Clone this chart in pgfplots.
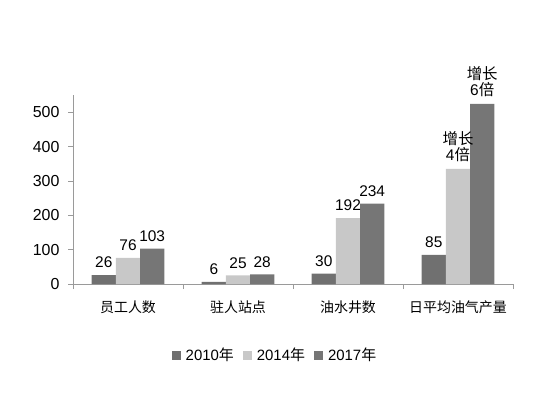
\documentclass[border=0pt]{standalone}
\usepackage{pgfplots}
\pgfplotsset{compat=1.18}
\usepackage{fontspec}
\setmainfont{Liberation Sans}
\newfontfamily\cjk{Noto Sans CJK SC}
\definecolor{cA}{HTML}{707070}
\definecolor{cB}{HTML}{C8C8C8}
\definecolor{cC}{HTML}{767676}
\definecolor{axc}{HTML}{9A9A9A}
\begin{document}
\begin{tikzpicture}[x=1bp,y=1bp]
\path[use as bounding box] (0,0) rectangle (550,392);
\begin{axis}[
  at={(73bp,108bp)}, anchor=south west,
  width=440bp, height=189bp, scale only axis,
  ybar=0pt, bar width=0.22,
  xmin=-0.5, xmax=3.5, ymin=0, ymax=550,
  axis lines*=left,
  axis line style={draw=axc, line width=0.8pt},
  xtick={0,1,2,3},
  xticklabels={员工人数,驻人站点,油水井数,日平均油气产量},
  xticklabel style={font=\cjk\fontsize{14}{16}\selectfont, yshift=-8bp},
  major x tick style={draw=none},
  minor xtick={-0.5,0.5,1.5,2.5,3.5},
  minor x tick style={draw=axc, line width=0.8pt},
  minor tick length=5bp,
  ytick={0,100,200,300,400,500},
  ytick style={draw=axc, line width=0.8pt},
  major tick length=5bp,
  tick align=outside,
  yticklabel style={font=\fontsize{16}{18}\selectfont, xshift=-5bp},
  /pgf/number format/assume math mode=true,
  nodes near coords,
  point meta=explicit symbolic,
  every node near coord/.append style={font=\fontsize{15.5}{16}\selectfont, align=center, inner sep=1bp, yshift=6bp},
  legend columns=3,
  legend style={at={(0.459,-0.376)}, anchor=center, draw=none, fill=none,
    font=\fontsize{15}{17}\selectfont, column sep=3bp,
    /tikz/every even column/.append style={column sep=7bp}},
  legend image code/.code={\fill[#1] (0bp,-4.5bp) rectangle (9bp,4.5bp);},
  clip=false,
]
\addplot[fill=cA, draw=none] coordinates {(0,26)[26] (1,6)[6] (2,30)[30] (3,85)[85]};
\addplot[fill=cB, draw=none] coordinates {(0,76)[76] (1,25)[25] (2,192)[192] (3,335)[{\cjk 增长}\\4{\cjk 倍}]};
\addplot[fill=cC, draw=none] coordinates {(0,103)[103] (1,28)[28] (2,234)[234] (3,524)[{\cjk 增长}\\6{\cjk 倍}]};
\legend{2010{\cjk 年},2014{\cjk 年},2017{\cjk 年}}
\end{axis}
\end{tikzpicture}
\end{document}
